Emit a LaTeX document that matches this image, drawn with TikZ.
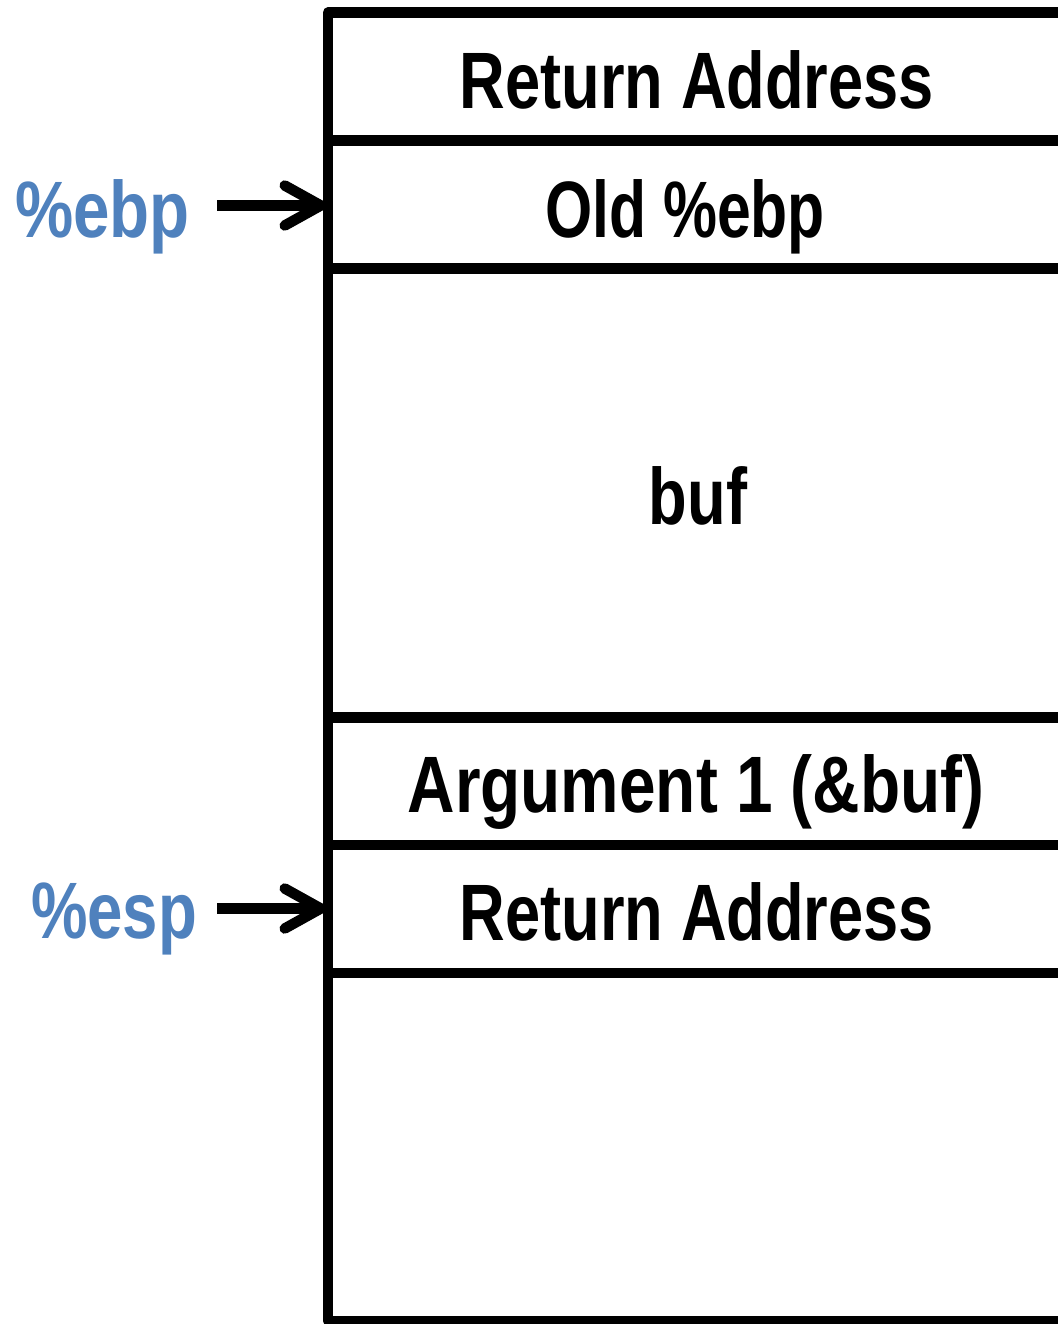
\documentclass[tikz,border=0pt]{standalone}
\usepackage{fontspec}
\usetikzlibrary{arrows.meta}
\newfontfamily\stackfont{Liberation Sans Bold}[FakeStretch=0.79]
\newfontfamily\regfont{Liberation Sans Bold}[FakeStretch=0.81]
\definecolor{regblue}{HTML}{4F81BD}
\tikzset{
  frameline/.style={line width=10.5pt, line join=round},
  cell/.style={font=\stackfont\fontsize{80}{96}\selectfont, anchor=base, inner sep=0pt},
  reglabel/.style={font=\regfont\fontsize{80}{96}\selectfont, text=regblue, anchor=base west, inner sep=0pt},
  pointer/.style={line width=10.5pt, -{Straight Barb[length=36pt, width=40pt, round]}}
}
\begin{document}
\begin{tikzpicture}[x=1pt, y=-1pt]
  \useasboundingbox (0,0) rectangle (1057,1324);

  % stack frame outline
  \draw[frameline] (1060,12.5) -- (328,12.5) -- (328,1321) -- (1060,1321);
  % slot dividers
  \foreach \yy in {140.5, 268.5, 717.5, 845, 973}
    \draw[frameline] (328,\yy) -- (1060,\yy);

  % slot contents
  \node[cell] (ret1) at (697,109) {Return Address};
  \node[cell, xscale=0.96] (oldebp) at (685,237) {Old \%ebp};
  \node[cell] (buf) at (698,524) {buf};
  \node[cell, xscale=1.04] (arg1) at (696,812) {Argument 1 (\&buf)};
  \node[cell] (ret2) at (697,940) {Return Address};

  % register pointers
  \node[reglabel, xscale=1.01] (ebp) at (15,238) {\%ebp};
  \node[reglabel, xscale=0.98] (esp) at (31,938) {\%esp};
  \coordinate (ebptail) at (217,205.5);
  \coordinate (ebphead) at (326,205.5);
  \coordinate (esptail) at (217,908.5);
  \coordinate (esphead) at (326,908.5);
  \draw[pointer] (ebptail) -- (ebphead);
  \draw[pointer] (esptail) -- (esphead);
\end{tikzpicture}
\end{document}
